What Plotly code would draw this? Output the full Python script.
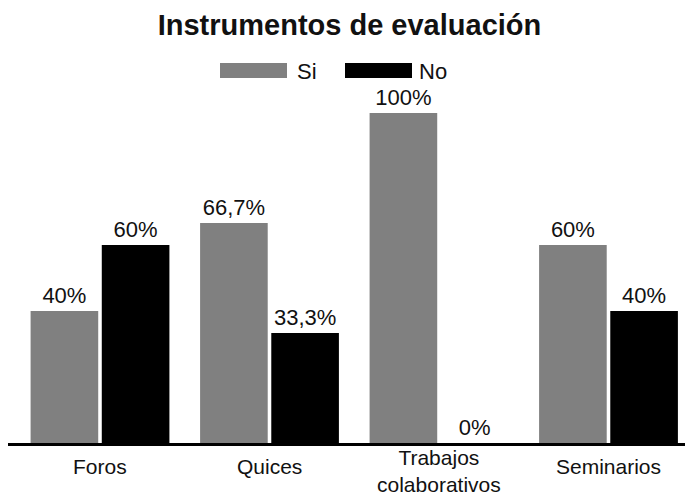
import plotly.graph_objects as go

categories = ["Foros", "Quices", "Trabajos<br>colaborativos", "Seminarios"]
si_values = [40, 66.7, 100, 60]
no_values = [60, 33.3, 0, 40]
si_labels = ["40%", "66,7%", "100%", "60%"]
no_labels = ["60%", "33,3%", "0%", "40%"]
series_names = ["Si", "No"]
series_colors = ["#808080", "#000000"]

W, H = 685, 499
ML, MR, MT, MB = 8, 0, 100, 56
PW = W - ML - MR
PH = H - MT - MB

FONT = "Liberation Sans, Arial, sans-serif"
xs = list(range(len(categories)))

fig = go.Figure()
fig.add_trace(go.Bar(
    x=xs, y=si_values, name=series_names[0],
    marker=dict(color=series_colors[0], line=dict(width=0)),
    text=si_labels, textposition="outside", cliponaxis=False,
    constraintext="none", textfont=dict(size=22, color="#111111", family=FONT),
    showlegend=False,
))
fig.add_trace(go.Bar(
    x=xs, y=no_values, name=series_names[1],
    marker=dict(color=series_colors[1], line=dict(width=0)),
    text=no_labels, textposition="outside", cliponaxis=False,
    constraintext="none", textfont=dict(size=22, color="#111111", family=FONT),
    showlegend=False,
))

def px_x(px):
    return (px - ML) / PW

def px_y(py):
    return (H - MB - py) / PH

shapes = []
annotations = []

# custom legend (wide swatches like the reference)
legend_items = [(220, 287, 295), (345, 412, 417)]
for (x0, x1, tx), name, col in zip(legend_items, series_names, series_colors):
    shapes.append(dict(type="rect", xref="paper", yref="paper",
                       x0=px_x(x0), x1=px_x(x1), y0=px_y(78), y1=px_y(63),
                       fillcolor=col, line=dict(width=0)))
    annotations.append(dict(xref="paper", yref="paper", x=px_x(tx), y=px_y(71),
                            xanchor="left", yanchor="middle", text=name, showarrow=False,
                            font=dict(size=22, color="#111111", family=FONT)))

# category labels placed on the x axis scale
for xi, cat in zip(xs, categories):
    if "<br>" in cat:
        pos = dict(y=px_y(498), yanchor="bottom")
    else:
        pos = dict(y=px_y(466), yanchor="middle")
    annotations.append(dict(xref="x", yref="paper", x=xi, xanchor="center",
                            text=cat, showarrow=False,
                            font=dict(size=21, color="#111111", family=FONT), **pos))

span = PW / 169.5
r0 = -(100 - ML) / 169.5

fig.update_layout(
    width=W, height=H,
    margin=dict(l=ML, r=MR, t=MT, b=MB, pad=0, autoexpand=False),
    paper_bgcolor="white", plot_bgcolor="white",
    title=dict(text="<b>Instrumentos de evaluación</b>", x=px_x(349.5), xref="paper",
               xanchor="center", y=1 - 25 / H, yanchor="middle", yref="container",
               font=dict(size=29, color="#111111", family=FONT)),
    barmode="group", bargap=0.16, bargroupgap=0.05,
    xaxis=dict(range=[r0, r0 + span], showgrid=False, zeroline=False, automargin=False,
               showline=True, linecolor="#000000", linewidth=2.5,
               ticks="", showticklabels=False),
    yaxis=dict(range=[0, PH / 3.3], visible=False, showgrid=False, zeroline=False,
               automargin=False),
    shapes=shapes, annotations=annotations,
    font=dict(family=FONT),
)

fig.write_html("out.html")
